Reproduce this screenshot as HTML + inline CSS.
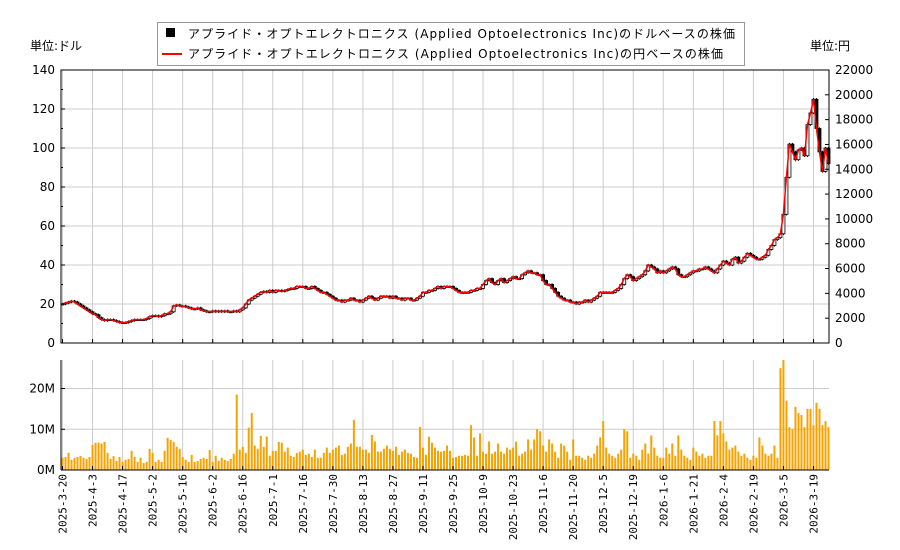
<!DOCTYPE html>
<html><head><meta charset="utf-8">
<style>
body{margin:0;background:#fff;}
svg{display:block;font-family:"DejaVu Sans","Noto Sans CJK JP",sans-serif;}
</style></head>
<body>
<svg id="c" width="900" height="550"></svg>
<script>
const closes=[20,20.5,21,21.5,21,20,19,18,17,16,
15,14.5,13,12,11.5,12,12,11.5,11,10.5,
10.5,10.5,11,11.5,12,12,12,12,12.5,13.5,
14,14,13.5,14,15,15,16,19,19.5,19,
19,18.5,18,17.5,17.5,18,17,16.5,16,16,
16.5,16,16.5,16,16.5,16,16,16.5,16,17,
18,20,22,23,24,25,26,26.5,26,27,
26,27,27,26.5,27,27.5,28,28,29,29,
29,28,28,29,28,27,26,26,25,24,
23,22,22,21,22,22,23,22,22,21,
22,23,24,23,22,23,24,24,24,23,
24,23,23,22,23,23,22,22,23,24,
26,26,27,27,28,29,28,29,29,29,
28,27,26,26,26,26,27,27,28,28,
30,32,33,31,30,32,33,31,32,33,
34,33,33,35,36,37,36,36,35,35,
32,30,30,28,26,24,23,22,22,21,
21,20,21,21,22,21,22,23,24,26,
26,26,26,26,27,28,30,33,35,34,
32,33,34,35,37,40,39,38,36,37,
36,37,38,39,38,35,34,34,35,36,
37,37,38,38,39,38,37,36,38,40,
42,41,40,43,44,41,42,44,46,45,
44,43,43,44,45,48,50,53,54,56,
66,85,102,98,94,99,100,96,112,118,
125,110,98,88,100,92];
const volumes=[3,3.2,4.2,2.5,3,3.2,3.4,3,2.7,3.2,
6.2,6.7,6.7,6.5,6.9,4.2,2.7,3.4,2.2,3.2,
2,2.5,2.7,4.7,3.2,2,3,1.7,2,5.2,
4.2,2,2.5,2,4.7,7.9,7.4,6.9,5.7,5.2,
3.2,2.5,2,3.7,2,2.2,2.7,3,2.7,4.9,
2,3.5,2.2,3,2.5,2.2,2.7,4,18.5,5,
5.7,4.2,10.4,14,6,5.2,8.4,5.7,8.2,3.5,
4.7,4.7,6.9,6.7,4.5,5.5,3.5,3.2,4.2,4.5,
5,3.7,4,3.2,5,3,3,4.2,5.5,4.2,
5,5.5,6,3.7,4,5.7,6.5,12.3,5.7,5.7,
5,5,4.2,8.6,7,4.5,4.5,5.2,6,5.2,
4.7,5.7,3.7,4.5,5,4.2,4,3.2,3,10.6,
5.5,3.7,8.2,6.7,5.5,4.7,4.5,4.7,6,4.7,
3,3.2,3.5,3.5,3.7,3.5,11,8,3.5,9,
4.5,4,7,4,4.5,6.5,4.5,4,5.5,5,
5.5,7,3.5,4,4.5,7.5,5,7.5,10,9.5,
6,4.5,7.5,6.5,4.5,3,6.5,6,4.5,2.5,
7.5,3.5,3.5,3,2.5,3.5,3,4,6,8,
12,5.5,4,3.5,3,4,5,10,9.5,3,
4,3.5,2.5,5,6.5,4,8.5,5.5,3.5,3,
3,5.5,4,6.5,3.5,8.5,5,3.5,3,2.5,
5.5,4.5,3.5,4,3,3.5,3.5,12,8.5,12,
9,7,5,5.5,6,4.5,3.5,4,3,2.5,
3.5,3,8,6,4,3.5,4,6,3,25,
27,17,10.5,10,15.5,14,13.5,10.5,15,15,
11,16.5,15,11,12,10.5];
const dateLabels=["2025-3-20","2025-4-3","2025-4-17","2025-5-2","2025-5-16","2025-6-2","2025-6-16","2025-7-1","2025-7-16","2025-7-30","2025-8-13","2025-8-27","2025-9-11","2025-9-25","2025-10-9","2025-10-23","2025-11-6","2025-11-20","2025-12-5","2025-12-19","2026-1-6","2026-1-21","2026-2-4","2026-2-19","2026-3-5","2026-3-19"];
const dateIdx=[0,10,20,30,40,50,60,70,80,90,100,110,120,130,140,150,160,170,180,190,200,210,220,230,240,250];
const leftTicks=[0,20,40,60,80,100,120,140];
const rightTicks=[0,2000,4000,6000,8000,10000,12000,14000,16000,18000,20000,22000];
const volTicks=[0,10,20];
const fxRate=157;

const svg=document.getElementById('c');
const NS='http://www.w3.org/2000/svg';
function mk(t,a,p){const e=document.createElementNS(NS,t);for(const k in a)e.setAttribute(k,a[k]);(p||svg).appendChild(e);return e;}
const L=61,R=829,T=70,B=343,VT=360,VB=470;
const n=closes.length;
const step=(R-L-2)/(n-1);
const x=i=>L+1.5+i*step;
const y=v=>B-(v/140)*(B-T);
const yy=v=>B-(v/22000)*(B-T);
const yv=v=>VB-(v/27)*(VB-VT);

const g=mk('g',{});


dateIdx.forEach(i=>{mk('line',{x1:x(i),x2:x(i),y1:T,y2:B,stroke:'#ccc'},g);mk('line',{x1:x(i),x2:x(i),y1:VT,y2:VB,stroke:'#ccc'},g);});
leftTicks.forEach(v=>mk('line',{x1:L,x2:R,y1:y(v),y2:y(v),stroke:'#ccc'},g));
volTicks.forEach(v=>mk('line',{x1:L,x2:R,y1:yv(v),y2:yv(v),stroke:'#ccc'},g));

volumes.forEach((v,i)=>{const r=mk('rect',{x:x(i)-1,y:yv(v),width:2,height:VB-yv(v),fill:'#f5a300'});

});

closes.forEach((c,i)=>{const o=i?closes[i-1]:c;const hi=Math.max(o,c),lo=Math.min(o,c);
mk('line',{x1:x(i),x2:x(i),y1:y(hi+0.6),y2:y(lo-0.6),stroke:'#000','stroke-width':1});
const up=c>=o;const r=mk('rect',{x:x(i)-1.5,y:y(hi),width:3,height:Math.max(1,y(lo)-y(hi)),fill:up?'#fff':'#000',stroke:'#000','stroke-width':0.8});

});

let d='';closes.forEach((c,i)=>{d+=(i?'L':'M')+x(i).toFixed(1)+','+yy(c*fxRate).toFixed(1);});
const pl=mk('path',{d:d,fill:'none',stroke:'#f00','stroke-width':1.5});



mk('rect',{x:L,y:T,width:R-L,height:B-T,fill:'none',stroke:'#000'});
mk('line',{x1:L,x2:L,y1:VT,y2:VB,stroke:'#000'});
mk('line',{x1:L,x2:R,y1:VB,y2:VB,stroke:'#000'});
leftTicks.forEach(v=>{mk('line',{x1:L,x2:L+4,y1:y(v),y2:y(v),stroke:'#000'});mk('line',{x1:L,x2:L+2,y1:y(v+10),y2:y(v+10),stroke:'#000'});
const t=mk('text',{x:L-6,y:y(v)+4,'text-anchor':'end','font-size':12});t.textContent=v;
});
rightTicks.forEach(v=>{mk('line',{x1:R-4,x2:R,y1:yy(v),y2:yy(v),stroke:'#000'});
const t=mk('text',{x:R+6,y:yy(v)+4,'font-size':12});t.textContent=v;
});
volTicks.forEach(v=>{mk('line',{x1:L,x2:L+4,y1:yv(v),y2:yv(v),stroke:'#000'});
const t=mk('text',{x:L-6,y:yv(v)+4,'text-anchor':'end','font-size':12});t.textContent=v+'M';
});
dateIdx.forEach((i,k)=>{mk('line',{x1:x(i),x2:x(i),y1:B-4,y2:B,stroke:'#000'});mk('line',{x1:x(i),x2:x(i),y1:VB-4,y2:VB,stroke:'#000'});
const t=mk('text',{transform:`translate(${x(i)+4},${VB+4}) rotate(-90)`,'text-anchor':'end','font-size':11,'font-family':'"DejaVu Sans Mono",monospace'});t.textContent=dateLabels[k];
});

let t=mk('text',{x:30,y:50,'font-size':12});t.textContent='単位:ドル';

t=mk('text',{x:810,y:50,'font-size':12});t.textContent='単位:円';


const lg=mk('g',{});


mk('rect',{x:157.5,y:22.5,width:587,height:43,fill:'#fff',stroke:'#999'},lg);
mk('rect',{x:166,y:28,width:9,height:9,fill:'#000'},lg);
mk('line',{x1:162,x2:182,y1:54,y2:54,stroke:'#f00','stroke-width':2},lg);
t=mk('text',{x:188,y:38,'font-size':12,textLength:547,lengthAdjust:'spacing'},lg);t.textContent='アプライド・オプトエレクトロニクス (Applied Optoelectronics Inc)のドルベースの株価';

t=mk('text',{x:188,y:58,'font-size':12,textLength:535,lengthAdjust:'spacing'},lg);t.textContent='アプライド・オプトエレクトロニクス (Applied Optoelectronics Inc)の円ベースの株価';

</script>
</body></html>
